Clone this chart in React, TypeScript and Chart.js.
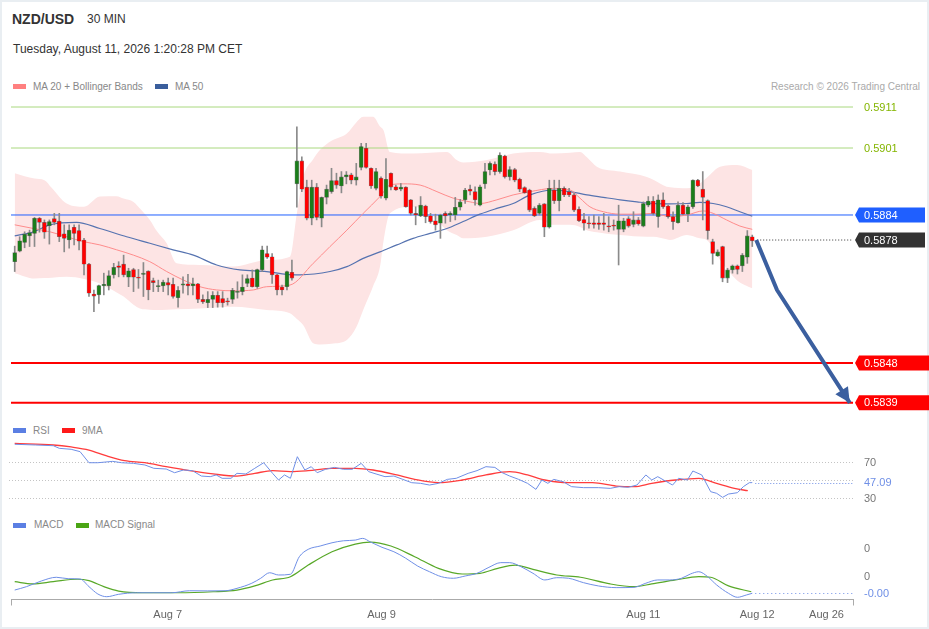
import React, { useEffect, useRef } from 'react';
import Chart from 'chart.js/auto';

const FONT = "'Liberation Sans', Arial, Helvetica, sans-serif";

// ---------- candles (30 min) ----------
const opens = [
  0.58730,0.58756,0.58777,0.58793,0.58799,0.58836,0.58826,0.58818,0.58835,0.58829,
  0.58798,0.58783,0.58814,0.58806,0.58783,0.58724,0.58651,0.58649,0.58671,0.58671,
  0.58698,0.58720,0.58724,0.58692,0.58711,0.58691,0.58699,0.58707,0.58684,0.58669,
  0.58671,0.58679,0.58675,0.58642,0.58673,0.58676,0.58671,0.58676,0.58638,0.58630,
  0.58638,0.58648,0.58640,0.58634,0.58638,0.58655,0.58657,0.58677,0.58690,0.58669,
  0.58710,0.58750,0.58742,0.58698,0.58668,0.58669,0.58704,0.58920,0.58976,0.58912,
  0.58836,0.58912,0.58836,0.58887,0.58901,0.58928,0.58915,0.58937,0.58942,0.58929,
  0.58960,0.59007,0.58958,0.58909,0.58934,0.58885,0.58946,0.58913,0.58907,0.58912,
  0.58881,0.58848,0.58842,0.58866,0.58842,0.58830,0.58824,0.58848,0.58844,0.58844,
  0.58863,0.58881,0.58907,0.58901,0.58868,0.58920,0.58954,0.58968,0.58950,0.58988,
  0.58937,0.58955,0.58931,0.58911,0.58905,0.58860,0.58848,0.58871,0.58814,0.58905,
  0.58879,0.58909,0.58901,0.58893,0.58858,0.58833,0.58825,0.58825,0.58825,0.58825,
  0.58817,0.58819,0.58809,0.58809,0.58835,0.58821,0.58832,0.58817,0.58868,0.58878,
  0.58840,0.58881,0.58866,0.58840,0.58825,0.58868,0.58846,0.58864,0.58929,0.58907,
  0.58879,0.58779,0.58744,0.58767,0.58690,0.58710,0.58720,0.58720,0.58741,0.58791,
];
const highs = [
  0.58768,0.58791,0.58803,0.58807,0.58838,0.58838,0.58832,0.58832,0.58848,0.58848,
  0.58820,0.58820,0.58820,0.58820,0.58787,0.58726,0.58661,0.58673,0.58702,0.58708,
  0.58726,0.58730,0.58746,0.58714,0.58714,0.58711,0.58728,0.58708,0.58690,0.58685,
  0.58685,0.58690,0.58690,0.58669,0.58693,0.58699,0.58690,0.58677,0.58649,0.58657,
  0.58657,0.58657,0.58657,0.58641,0.58665,0.58681,0.58698,0.58698,0.58710,0.58712,
  0.58768,0.58768,0.58750,0.58699,0.58673,0.58707,0.58734,0.59059,0.58986,0.58929,
  0.58929,0.58921,0.58888,0.58917,0.58958,0.58946,0.58950,0.58950,0.58946,0.58970,
  0.59019,0.59019,0.58959,0.58958,0.58937,0.58982,0.58947,0.58917,0.58921,0.58913,
  0.58882,0.58864,0.58889,0.58868,0.58848,0.58846,0.58846,0.58852,0.58852,0.58887,
  0.58882,0.58909,0.58917,0.58913,0.58917,0.58970,0.58974,0.58974,0.58996,0.58990,
  0.58962,0.58958,0.58934,0.58913,0.58907,0.58864,0.58872,0.58872,0.58929,0.58929,
  0.58929,0.58913,0.58909,0.58897,0.58864,0.58848,0.58840,0.58844,0.58840,0.58848,
  0.58840,0.58832,0.58868,0.58836,0.58840,0.58852,0.58838,0.58876,0.58889,0.58889,
  0.58893,0.58898,0.58868,0.58852,0.58876,0.58874,0.58868,0.58930,0.58931,0.58950,
  0.58881,0.58785,0.58759,0.58768,0.58714,0.58722,0.58722,0.58750,0.58806,0.58795,
];
const lows = [
  0.58706,0.58754,0.58764,0.58767,0.58767,0.58802,0.58787,0.58773,0.58820,0.58779,
  0.58754,0.58763,0.58771,0.58759,0.58698,0.58645,0.58608,0.58628,0.58649,0.58661,
  0.58690,0.58693,0.58693,0.58669,0.58657,0.58665,0.58645,0.58637,0.58657,0.58657,
  0.58657,0.58649,0.58641,0.58619,0.58653,0.58649,0.58649,0.58630,0.58628,0.58618,
  0.58618,0.58619,0.58619,0.58624,0.58628,0.58641,0.58649,0.58669,0.58668,0.58665,
  0.58706,0.58738,0.58677,0.58649,0.58649,0.58661,0.58685,0.58863,0.58901,0.58832,
  0.58820,0.58832,0.58815,0.58871,0.58897,0.58909,0.58898,0.58920,0.58920,0.58917,
  0.58954,0.58958,0.58909,0.58905,0.58885,0.58881,0.58905,0.58904,0.58903,0.58863,
  0.58844,0.58820,0.58840,0.58825,0.58824,0.58807,0.58787,0.58824,0.58828,0.58832,
  0.58856,0.58872,0.58893,0.58868,0.58866,0.58909,0.58942,0.58942,0.58946,0.58934,
  0.58929,0.58925,0.58901,0.58897,0.58852,0.58840,0.58844,0.58791,0.58812,0.58872,
  0.58854,0.58889,0.58889,0.58852,0.58828,0.58807,0.58812,0.58812,0.58809,0.58807,
  0.58803,0.58807,0.58722,0.58803,0.58814,0.58815,0.58819,0.58815,0.58864,0.58844,
  0.58814,0.58860,0.58836,0.58809,0.58824,0.58844,0.58828,0.58860,0.58913,0.58832,
  0.58785,0.58724,0.58743,0.58681,0.58679,0.58702,0.58700,0.58706,0.58726,0.58767,
];
const closes = [
  0.58752,0.58781,0.58797,0.58801,0.58836,0.58826,0.58802,0.58828,0.58826,0.58791,
  0.58787,0.58807,0.58799,0.58780,0.58724,0.58653,0.58646,0.58672,0.58675,0.58696,
  0.58716,0.58716,0.58698,0.58708,0.58692,0.58690,0.58702,0.58661,0.58679,0.58671,
  0.58680,0.58673,0.58645,0.58660,0.58676,0.58671,0.58676,0.58638,0.58632,0.58638,
  0.58648,0.58630,0.58630,0.58632,0.58660,0.58657,0.58668,0.58689,0.58669,0.58711,
  0.58759,0.58741,0.58698,0.58661,0.58661,0.58706,0.58690,0.58976,0.58907,0.58836,
  0.58912,0.58838,0.58887,0.58907,0.58928,0.58917,0.58937,0.58942,0.58929,0.58937,
  0.59011,0.58960,0.58915,0.58950,0.58890,0.58931,0.58912,0.58905,0.58912,0.58864,
  0.58848,0.58844,0.58868,0.58840,0.58828,0.58820,0.58844,0.58842,0.58848,0.58863,
  0.58876,0.58905,0.58902,0.58881,0.58913,0.58950,0.58970,0.58950,0.58990,0.58937,
  0.58955,0.58929,0.58907,0.58898,0.58856,0.58842,0.58868,0.58814,0.58909,0.58879,
  0.58909,0.58893,0.58893,0.58856,0.58830,0.58824,0.58822,0.58821,0.58821,0.58821,
  0.58815,0.58817,0.58830,0.58830,0.58817,0.58832,0.58822,0.58872,0.58878,0.58848,
  0.58881,0.58864,0.58840,0.58828,0.58868,0.58846,0.58864,0.58929,0.58915,0.58887,
  0.58806,0.58750,0.58754,0.58690,0.58710,0.58720,0.58711,0.58746,0.58793,0.58781,
];

// ---------- moving averages & Bollinger bands (candle index, price) ----------
const ma20X = [0,3.8,7.1,10.5,13.9,17.2,20.6,24,27.3,30.7,34.1,37.4,40.8,44.2,48.2,50.9,55.6,60.3,63.7,67.1,70.4,73.8,75.8,78.5,81.9,85.3,88.6,92,94,97.4,100.7,104.1,108.8,112.2,114.2,116.2,118.9,122.3,125.7,129,132.4,135.8,139.1,141.1,143.8,146.5,149];
const ma20Y = [0.58820,0.58811,0.58803,0.58791,0.58779,0.58771,0.58759,0.58746,0.58730,0.58706,0.58685,0.58669,0.58661,0.58659,0.58661,0.58669,0.58673,0.58726,0.58767,0.58807,0.58848,0.58889,0.58917,0.58920,0.58917,0.58901,0.58885,0.58876,0.58872,0.58881,0.58893,0.58901,0.58909,0.58905,0.58885,0.58864,0.58852,0.58846,0.58846,0.58848,0.58840,0.58844,0.58854,0.58848,0.58832,0.58817,0.58809];
const ma50X = [0,3.8,7.1,12.5,17.2,22.6,27.3,32,36.1,40.8,45.5,50.9,54.9,57.6,63.7,67.1,70.4,73.8,77.2,80.5,83.9,87.3,90.6,94,97.4,100.7,104.1,108.8,112.2,115.6,118.9,122.3,125.7,129,132.4,135.8,138.4,141.1,143.8,146.5,149];
const ma50Y = [0.58793,0.58803,0.58820,0.58826,0.58811,0.58791,0.58775,0.58759,0.58746,0.58722,0.58710,0.58706,0.58699,0.58698,0.58706,0.58718,0.58738,0.58754,0.58771,0.58787,0.58799,0.58811,0.58828,0.58846,0.58860,0.58872,0.58893,0.58905,0.58901,0.58893,0.58887,0.58881,0.58876,0.58872,0.58871,0.58872,0.58875,0.58872,0.58864,0.58852,0.58841];
const bandX = [0,4,6,7.5,10.5,14,17.2,20.6,22,24,25.3,27.3,28.7,30.7,32.7,37.4,44.2,50.9,55.6,57,58.3,60.3,61.7,64,67.1,69,70.4,72.4,73.8,74.5,75.8,80.5,83.9,87.3,89.3,90.6,95.4,100.7,106.1,108.8,112.2,114.2,115.6,117.6,122.3,127.7,129,131.7,132.4,135.8,138.4,139.8,142.5,145.9,149];
const bandUpper = [0.58946,0.58933,0.58929,0.58910,0.58872,0.58864,0.58889,0.58890,0.58884,0.58876,0.58860,0.58832,0.58805,0.58775,0.58726,0.58722,0.58718,0.58734,0.58742,0.58848,0.58937,0.58980,0.59003,0.59025,0.59043,0.59070,0.59084,0.59084,0.59060,0.59051,0.58998,0.58994,0.58996,0.58998,0.58978,0.58972,0.58978,0.58994,0.58998,0.58994,0.58996,0.58998,0.58985,0.58962,0.58950,0.58937,0.58930,0.58913,0.58912,0.58909,0.58921,0.58935,0.58962,0.58966,0.58954];
const bandLower = [0.58702,0.58689,0.58690,0.58691,0.58693,0.58688,0.58677,0.58655,0.58645,0.58625,0.58616,0.58613,0.58612,0.58613,0.58614,0.58616,0.58620,0.58612,0.58604,0.58590,0.58575,0.58531,0.58528,0.58530,0.58539,0.58570,0.58612,0.58670,0.58718,0.58780,0.58848,0.58864,0.58848,0.58807,0.58795,0.58787,0.58791,0.58807,0.58832,0.58820,0.58820,0.58815,0.58807,0.58802,0.58795,0.58791,0.58791,0.58785,0.58783,0.58795,0.58787,0.58783,0.58734,0.58685,0.58665];

// ---------- levels & forecast ----------
const resistanceLevels = [0.591076, 0.590075];
const pivotLevel = 0.58844;
const supportLevels = [0.584827, 0.583855];
const lastPrice = 0.587829;
const forecastX = [149.8, 154.0, 168.7];
const forecastY = [0.587829, 0.58661, 0.583855];

// ---------- RSI ----------
const rsiX = [0,4.2,7.8,9,11.4,13.2,15,16.8,19.8,21.6,24,26.3,28.1,30.6,32.3,34.1,35.9,37.7,39.5,40.7,41.9,43.7,44.9,46.7,48.5,50.3,52.1,53.3,54.5,55.7,57.1,58.6,59.9,61.1,62.8,64.6,66.4,68.2,70,71.5,73,74.8,76.6,78.4,80.2,82,83.8,85.6,87.4,89.2,91.6,93.4,95.2,97,98.5,100,101.8,103.6,105.3,106.5,107.7,108.9,110.8,112.5,114.9,117.9,120.3,122.1,123.9,125.7,127.5,128.7,129.9,131.1,132.9,134.1,135.9,137,138.8,140.6,141.8,143,144.2,146,147.2,148.4,149];
const rsiY = [89.7,88.9,88.1,85.2,84.1,81.5,69.2,69.2,70.7,69.2,68.5,66.7,63,62.2,58.1,61.1,60.4,54.4,53.7,55.6,51.9,51.9,57.4,56.7,63,69.2,57.4,50,55.6,51.9,75.9,61.1,64.8,58.1,61.9,64,61.9,61.9,68.5,59.3,56.7,53.7,54.4,50.7,47,46.3,44.4,46.3,50.7,51.9,57.4,60.4,64.8,64,58.1,54.4,50.7,46.3,39.6,50,46.3,50.7,48.1,42.6,41.5,41.5,40.7,42.6,41.9,44.4,55.6,50,53.7,50,44.4,51.9,50,60,55.6,37,35.2,30.7,34.4,35.9,42.6,47,47.09];
const rsiMaX = [0,7.8,11.4,15,18.6,22.2,26.3,30.6,35.3,40.1,44.9,48.5,52.1,55.7,59.3,64.1,68.8,72.4,77.2,80.8,85.6,90.4,95.2,100,103.6,107.1,111.9,116.7,121.5,125.1,128.7,133.5,138.2,141.8,145.4,148.1];
const rsiMaY = [90.7,88.9,86.7,83.3,76.7,71.5,69.2,64.8,60.4,56.7,54.4,57.4,60.4,59.3,60.4,63,63,61.1,55.6,50.7,47,50,55.6,59.3,55.6,50,47,47,43.3,42.6,46.3,50,51.9,46.3,40.7,38.1];
const rsiGuides = [70, 50, 30];
const rsiTickLabels = [70, 30];

// ---------- MACD ----------
const macdX = [0,2.4,5.4,8.4,10.8,13.2,15,16.8,18.6,21,24.6,28.1,31.7,35.3,38.9,42.5,44.9,47.9,49.7,51.5,53.3,55.7,57.5,59.3,61.7,64.1,66.4,68.8,70.3,71.8,74.2,76.6,79,81.4,83.8,86.2,88.6,91,93.4,95.8,98.2,100,102.3,104.7,107.1,109.5,111.9,114.9,117.9,121.5,125.1,127.5,129.9,132.3,134.7,136.5,138.2,140,141.8,144.2,146,147.8,149];
const macdY = [-94e-6,-70e-6,-30e-6,-4e-6,-14e-6,-16e-6,-70e-6,-122e-6,-141e-6,-124e-6,-113e-6,-113e-6,-113e-6,-99e-6,-100e-6,-99e-6,-82e-6,-46e-6,-11e-6,28e-6,12e-6,17e-6,141e-6,193e-6,216e-6,239e-6,253e-6,258e-6,270e-6,246e-6,207e-6,176e-6,130e-6,75e-6,35e-6,0,-11e-6,5e-6,24e-6,66e-6,99e-6,99e-6,70e-6,24e-6,-23e-6,-7e-6,-11e-6,-42e-6,-65e-6,-77e-6,-75e-6,-46e-6,-23e-6,-23e-6,-11e-6,19e-6,35e-6,0,-58e-6,-117e-6,-145e-6,-129e-6,-117e-6];
const signalX = [0,3.6,7.8,12.6,15,18,21,25.8,32.9,40.1,44.9,48.5,52.1,55.7,59.3,64.1,68.8,71.8,76,80.8,85.6,90.4,94,97.6,101.1,104.7,109.5,114.3,120.3,125.1,128.7,133.5,138.2,140.6,144.2,148.8];
const signalY = [-35e-6,-51e-6,-35e-6,-18e-6,-28e-6,-70e-6,-101e-6,-113e-6,-113e-6,-106e-6,-94e-6,-65e-6,-23e-6,0,82e-6,176e-6,230e-6,244e-6,216e-6,141e-6,59e-6,19e-6,24e-6,59e-6,82e-6,52e-6,12e-6,-4e-6,-51e-6,-70e-6,-51e-6,-23e-6,0,-4e-6,-65e-6,-106e-6];
const macdTickValues = [0.0002, 0];

// ---------- x axis ----------
const xTickValues = [30.9, 74.1, 127, 150, 164];
const xTickLabels = ['Aug 7', 'Aug 9', 'Aug 11', 'Aug 12', 'Aug 26'];

// ---------- layout constants ----------
const W = 929;
const X_MIN = -0.75;
const X_MAX = 169.35;
const PRICE_MIN = 0.583558;
const PRICE_MAX = 0.591369;
const RSI_MIN = 20;
const RSI_MAX = 100;
const MACD_MIN = -0.0001606;
const MACD_MAX = 0.000329;

const C = {
  green: '#1b7d1b',
  red: '#ff0000',
  wick: '#8a8a8a',
  band: '#fde4e4',
  ma20: '#ff8c8c',
  ma50: '#5673b0',
  resLine: '#a9d87f',
  resText: '#84b500',
  pivot: '#1f5fff',
  support: '#ff0000',
  last: '#333333',
  arrow: '#3b5f9f',
  rsi: '#6f8fe6',
  rsiMa: '#ff3c3c',
  macd: '#6f8fe6',
  signal: '#58a828',
  grid: '#c4c4c4',
  label: '#777777',
};

const pts = (xs: number[], ys: number[]) => xs.map((x, i) => ({ x, y: ys[i] }));
const hLine = (v: number) => [{ x: X_MIN, y: v }, { x: X_MAX, y: v }];

const baseOptions = (padding: any) => ({
  responsive: false,
  animation: false as const,
  events: [] as any[],
  layout: { padding },
  plugins: { legend: { display: false }, tooltip: { enabled: false } },
});

function lineDs(data: any[], color: string, width: number, order: number, extra: any = {}) {
  return {
    type: 'line',
    data,
    borderColor: color,
    borderWidth: width,
    pointRadius: 0,
    fill: false,
    order,
    ...extra,
  };
}

function drawTag(ctx: CanvasRenderingContext2D, area: any, y: number, bg: string, text: string, right: number) {
  const tip = area.right + 2;
  const left = area.right + 6;
  const h = 15;
  ctx.fillStyle = bg;
  ctx.beginPath();
  ctx.moveTo(tip, y);
  ctx.lineTo(left, y - h / 2);
  ctx.lineTo(right, y - h / 2);
  ctx.lineTo(right, y + h / 2);
  ctx.lineTo(left, y + h / 2);
  ctx.closePath();
  ctx.fill();
  ctx.fillStyle = '#ffffff';
  ctx.textAlign = 'left';
  ctx.textBaseline = 'middle';
  ctx.fillText(text, area.right + 11, y + 0.5);
}

function buildMain(canvas: HTMLCanvasElement) {
  const idx = opens.map((_, i) => i);
  const up = closes.map((c, i) => c >= opens[i]);
  const datasets: any[] = [
    lineDs(pts(bandX, bandUpper), 'rgba(0,0,0,0)', 1, 10, { fill: '+1', backgroundColor: C.band, cubicInterpolationMode: 'monotone' }),
    lineDs(pts(bandX, bandLower), 'rgba(0,0,0,0)', 1, 10, { cubicInterpolationMode: 'monotone' }),
    ...resistanceLevels.map((v) => lineDs(hLine(v), C.resLine, 1, 8)),
    lineDs(hLine(pivotLevel), C.pivot, 1, 8),
    ...supportLevels.map((v) => lineDs(hLine(v), C.support, 2, 8)),
    lineDs([{ x: closes.length, y: lastPrice }, { x: X_MAX, y: lastPrice }], C.last, 1, 8, { borderDash: [1, 2] }),
    lineDs(pts(ma20X, ma20Y), C.ma20, 1, 6, { cubicInterpolationMode: 'monotone' }),
    lineDs(pts(ma50X, ma50Y), C.ma50, 1.2, 6, { cubicInterpolationMode: 'monotone' }),
    {
      type: 'bar',
      data: idx.map((i) => ({ x: i, y: [lows[i], highs[i]] })),
      backgroundColor: C.wick,
      borderWidth: 0,
      barThickness: 1,
      grouped: false,
      order: 4,
    },
    {
      type: 'bar',
      data: idx.map((i) => ({ x: i, y: [opens[i], closes[i]] })),
      backgroundColor: up.map((u) => (u ? C.green : C.red)),
      borderColor: 'rgba(40,40,40,0.55)',
      borderWidth: 0.6,
      borderSkipped: false,
      barThickness: 4,
      minBarLength: 1,
      grouped: false,
      order: 2,
    },
    lineDs(pts(forecastX, forecastY), C.arrow, 4, 1, { borderCapStyle: 'butt', borderJoinStyle: 'round' }),
  ];
  const arrowIndex = datasets.length - 1;

  const overlay = {
    id: 'mainOverlay',
    afterDatasetsDraw(chart: any) {
      const { ctx, chartArea: a, scales } = chart;
      const y = scales.y;
      ctx.save();
      // arrow head
      const p = chart.getDatasetMeta(arrowIndex).data;
      const b = p[p.length - 1];
      const c = p[p.length - 2];
      const ang = Math.atan2(b.y - c.y, b.x - c.x);
      const L = 15;
      const Hw = 7.5;
      ctx.fillStyle = C.arrow;
      ctx.beginPath();
      ctx.moveTo(b.x, b.y);
      ctx.lineTo(b.x - L * Math.cos(ang) + Hw * Math.sin(ang), b.y - L * Math.sin(ang) - Hw * Math.cos(ang));
      ctx.lineTo(b.x - L * Math.cos(ang) - Hw * Math.sin(ang), b.y - L * Math.sin(ang) + Hw * Math.cos(ang));
      ctx.closePath();
      ctx.fill();

      ctx.font = `11px ${FONT}`;
      ctx.textBaseline = 'middle';
      ctx.textAlign = 'left';
      resistanceLevels.forEach((v) => {
        ctx.fillStyle = C.resText;
        ctx.fillText(v.toFixed(4), a.right + 11, y.getPixelForValue(v) + 0.5);
      });
      drawTag(ctx, a, y.getPixelForValue(pivotLevel), C.pivot, pivotLevel.toFixed(4), 925);
      drawTag(ctx, a, y.getPixelForValue(lastPrice), C.last, lastPrice.toFixed(4), 925);
      supportLevels.forEach((v) => drawTag(ctx, a, y.getPixelForValue(v), C.support, v.toFixed(4), W));
      ctx.restore();
    },
  };

  return new Chart(canvas, {
    type: 'bar',
    data: { datasets },
    options: {
      ...baseOptions({ left: 11, right: 76, top: 0, bottom: 5 }),
      scales: {
        x: { type: 'linear', min: X_MIN, max: X_MAX, display: false, offset: false },
        y: { type: 'linear', min: PRICE_MIN, max: PRICE_MAX, display: false, beginAtZero: false },
      },
    } as any,
    plugins: [overlay],
  } as any);
}

function buildRsi(canvas: HTMLCanvasElement) {
  const overlay = {
    id: 'rsiOverlay',
    beforeDatasetsDraw(chart: any) {
      const { ctx, chartArea: a, scales } = chart;
      ctx.save();
      ctx.strokeStyle = C.grid;
      ctx.lineWidth = 1;
      ctx.setLineDash([1, 2]);
      rsiGuides.forEach((v) => {
        const py = Math.round(scales.y.getPixelForValue(v)) + 0.5;
        ctx.beginPath();
        ctx.moveTo(a.left - 2, py);
        ctx.lineTo(a.right, py);
        ctx.stroke();
      });
      ctx.restore();
    },
    afterDatasetsDraw(chart: any) {
      const { ctx, chartArea: a, scales } = chart;
      ctx.save();
      ctx.font = `11px ${FONT}`;
      ctx.textBaseline = 'middle';
      ctx.textAlign = 'left';
      ctx.fillStyle = C.label;
      rsiTickLabels.forEach((v) => ctx.fillText(String(v), a.right + 11, scales.y.getPixelForValue(v) + 0.5));
      const lv = rsiY[rsiY.length - 1];
      const ly = scales.y.getPixelForValue(lv);
      const lx = scales.x.getPixelForValue(rsiX[rsiX.length - 1]);
      ctx.strokeStyle = C.rsi;
      ctx.setLineDash([1, 2]);
      ctx.beginPath();
      ctx.moveTo(lx + 3, Math.round(ly) + 0.5);
      ctx.lineTo(a.right, Math.round(ly) + 0.5);
      ctx.stroke();
      ctx.fillStyle = C.rsi;
      ctx.fillText(lv.toFixed(2), a.right + 11, ly + 0.5);
      ctx.restore();
    },
  };
  return new Chart(canvas, {
    type: 'line',
    data: {
      datasets: [
        lineDs(pts(rsiMaX, rsiMaY), C.rsiMa, 1.3, 2, { cubicInterpolationMode: 'monotone' }),
        lineDs(pts(rsiX, rsiY), C.rsi, 1, 1),
      ],
    },
    options: {
      ...baseOptions({ left: 11, right: 76, top: 10, bottom: 8 }),
      scales: {
        x: { type: 'linear', min: X_MIN, max: X_MAX, display: false },
        y: { type: 'linear', min: RSI_MIN, max: RSI_MAX, display: false },
      },
    } as any,
    plugins: [overlay],
  } as any);
}

function buildMacd(canvas: HTMLCanvasElement) {
  const overlay = {
    id: 'macdOverlay',
    afterDatasetsDraw(chart: any) {
      const { ctx, chartArea: a, scales } = chart;
      ctx.save();
      ctx.font = `11px ${FONT}`;
      ctx.textBaseline = 'middle';
      ctx.textAlign = 'left';
      ctx.fillStyle = C.label;
      macdTickValues.forEach((v) => ctx.fillText(v.toFixed(0), a.right + 11, scales.y.getPixelForValue(v) + 0.5));
      const lv = macdY[macdY.length - 1];
      const ly = scales.y.getPixelForValue(lv);
      const lx = scales.x.getPixelForValue(macdX[macdX.length - 1]);
      ctx.strokeStyle = C.macd;
      ctx.setLineDash([1, 3]);
      ctx.beginPath();
      ctx.moveTo(lx + 3, Math.round(ly) + 0.5);
      ctx.lineTo(a.right, Math.round(ly) + 0.5);
      ctx.stroke();
      ctx.fillStyle = C.macd;
      ctx.fillText(lv.toFixed(2), a.right + 11, ly + 0.5);
      ctx.restore();
    },
    afterDraw(chart: any) {
      const { ctx, chartArea: a } = chart;
      ctx.save();
      ctx.strokeStyle = '#aaaaaa';
      ctx.lineWidth = 1;
      [a.left + 0.5, a.right + 0.5].forEach((x) => {
        ctx.beginPath();
        ctx.moveTo(x, a.bottom);
        ctx.lineTo(x, a.bottom + 6);
        ctx.stroke();
      });
      ctx.restore();
    },
  };
  return new Chart(canvas, {
    type: 'line',
    data: {
      datasets: [
        lineDs(pts(signalX, signalY), C.signal, 1.2, 2, { cubicInterpolationMode: 'monotone' }),
        lineDs(pts(macdX, macdY), C.macd, 1, 1, { cubicInterpolationMode: 'monotone' }),
      ],
    },
    options: {
      ...baseOptions({ left: 11, right: 76, top: 15, bottom: 0 }),
      scales: {
        x: {
          type: 'linear',
          min: X_MIN,
          max: X_MAX,
          display: true,
          grid: { display: false, drawTicks: false },
          border: { display: true, color: '#aaaaaa', width: 1 },
          afterBuildTicks: (scale: any) => {
            scale.ticks = xTickValues.map((v) => ({ value: v }));
          },
          afterFit: (scale: any) => {
            scale.height = 29.5;
          },
          ticks: {
            autoSkip: false,
            maxRotation: 0,
            minRotation: 0,
            padding: 9,
            color: '#666666',
            font: { size: 11, family: FONT },
            callback: (_v: any, i: number) => xTickLabels[i],
          },
        },
        y: { type: 'linear', min: MACD_MIN, max: MACD_MAX, display: false },
      },
    } as any,
    plugins: [overlay],
  } as any);
}

const Txt = (p: { x: number; y: number; size: number; color: string; bold?: boolean; right?: boolean; children: any }) => (
  <div
    style={{
      position: 'absolute',
      left: p.right ? undefined : p.x,
      right: p.right ? W - p.x : undefined,
      top: p.y - p.size / 2,
      fontSize: p.size,
      lineHeight: `${p.size}px`,
      color: p.color,
      fontWeight: p.bold ? 700 : 400,
      whiteSpace: 'nowrap',
      fontFamily: FONT,
    }}
  >
    {p.children}
  </div>
);

const Swatch = (p: { x: number; y: number; color: string }) => (
  <div style={{ position: 'absolute', left: p.x, top: p.y - 2.5, width: 13, height: 5, background: p.color }} />
);

export default function App() {
  const mainRef = useRef<HTMLCanvasElement>(null);
  const rsiRef = useRef<HTMLCanvasElement>(null);
  const macdRef = useRef<HTMLCanvasElement>(null);

  useEffect(() => {
    Chart.defaults.font.family = FONT;
    const charts = [
      buildMain(mainRef.current as HTMLCanvasElement),
      buildRsi(rsiRef.current as HTMLCanvasElement),
      buildMacd(macdRef.current as HTMLCanvasElement),
    ];
    return () => charts.forEach((c) => c.destroy());
  }, []);

  return (
    <div style={{ position: 'fixed', left: 0, top: 0, width: W, height: 629, background: '#ffffff', overflow: 'hidden' }}>
      <div style={{ position: 'absolute', left: 0, top: 0, width: W, height: 629, boxSizing: 'border-box', border: '2px solid #e9eef2' }} />
      <Txt x={12} y={19} size={14} color="#333" bold>NZD/USD</Txt>
      <Txt x={87} y={19} size={12} color="#333">30 MIN</Txt>
      <Txt x={13} y={49} size={12} color="#333">Tuesday, August 11, 2026 1:20:28 PM CET</Txt>

      <Swatch x={13} y={86.5} color="#ff8080" />
      <Txt x={33} y={87} size={10} color="#888">MA 20 + Bollinger Bands</Txt>
      <Swatch x={155} y={86.5} color="#3a5e9c" />
      <Txt x={175} y={87} size={10} color="#888">MA 50</Txt>
      <Txt x={920} y={87} size={10} color="#aaa" right>Research © 2026 Trading Central</Txt>

      <Swatch x={13} y={430.7} color="#5b7fe3" />
      <Txt x={33} y={431} size={10} color="#888">RSI</Txt>
      <Swatch x={62} y={430.7} color="#ff1a1a" />
      <Txt x={82} y={431} size={10} color="#888">9MA</Txt>

      <Swatch x={13} y={525} color="#5b7fe3" />
      <Txt x={34} y={525.3} size={10} color="#888">MACD</Txt>
      <Swatch x={76} y={525} color="#4aa514" />
      <Txt x={95} y={525.3} size={10} color="#888">MACD Signal</Txt>

      <canvas ref={mainRef} width={W} height={325} style={{ position: 'absolute', left: 0, top: 95 }} />
      <canvas ref={rsiRef} width={W} height={90} style={{ position: 'absolute', left: 0, top: 425 }} />
      <canvas ref={macdRef} width={W} height={114} style={{ position: 'absolute', left: 0, top: 515 }} />
    </div>
  );
}
